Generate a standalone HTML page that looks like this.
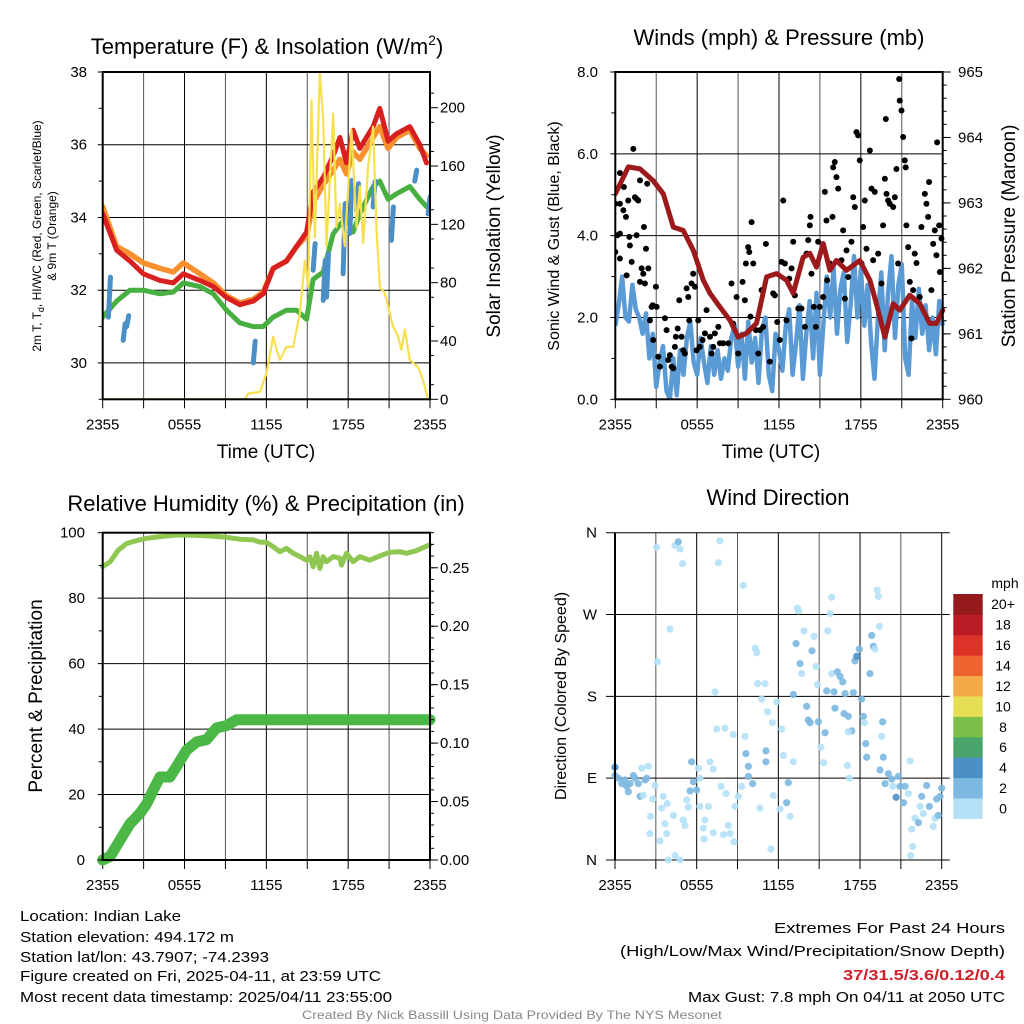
<!DOCTYPE html>
<html><head><meta charset="utf-8"><style>
html,body{margin:0;padding:0;background:#fff;}
svg{display:block;font-family:"Liberation Sans",Arial,sans-serif;}
</style></head><body>
<svg id="chart" width="1024" height="1024" viewBox="0 0 1024 1024" xmlns="http://www.w3.org/2000/svg">
<rect x="0" y="0" width="1024" height="1024" fill="#fff"/>
<g id="p1"></g>
<g id="p2"></g>
<g id="p3"></g>
<g id="p4"></g>
<g font-size="15" fill="#000">
<text x="20" y="921" textLength="161" lengthAdjust="spacingAndGlyphs">Location: Indian Lake</text>
<text x="20" y="942" textLength="214" lengthAdjust="spacingAndGlyphs">Station elevation: 494.172 m</text>
<text x="20" y="962" textLength="249" lengthAdjust="spacingAndGlyphs">Station lat/lon: 43.7907; -74.2393</text>
<text x="20" y="981" textLength="361" lengthAdjust="spacingAndGlyphs">Figure created on Fri, 2025-04-11, at 23:59 UTC</text>
<text x="20" y="1002" textLength="372" lengthAdjust="spacingAndGlyphs">Most recent data timestamp: 2025/04/11 23:55:00</text>
<text x="1005" y="933" text-anchor="end" textLength="231" lengthAdjust="spacingAndGlyphs">Extremes For Past 24 Hours</text>
<text x="1005" y="956" text-anchor="end" textLength="385" lengthAdjust="spacingAndGlyphs">(High/Low/Max Wind/Precipitation/Snow Depth)</text>
<text x="1005" y="980" text-anchor="end" fill="#d0202a" font-weight="bold" textLength="162" lengthAdjust="spacingAndGlyphs">37/31.5/3.6/0.12/0.4</text>
<text x="1005" y="1002" text-anchor="end" textLength="317" lengthAdjust="spacingAndGlyphs">Max Gust: 7.8 mph On 04/11 at 2050 UTC</text>
<text x="512" y="1019" text-anchor="middle" font-size="12" fill="#888" textLength="420" lengthAdjust="spacingAndGlyphs">Created By Nick Bassill Using Data Provided By The NYS Mesonet</text>
</g>
</svg>
<script>
// ===== shared =====
const timeTickLabels = ["2355","0555","1155","1755","2355"];
// ===== panel 1 data =====
const tempHours = [0,1.03,2.0,2.98,4.2,5.18,5.91,7.13,8.11,9.08,10.06,11.04,11.77,12.5,13.48,14.21,14.95,15.43,16.17,16.9,17.39,17.88,18.36,18.85,19.83,20.32,20.93,21.54,22.52,23.25,23.74];
const tempRed = [34.1,33.1,32.8,32.45,32.27,32.2,32.45,32.27,32.1,31.8,31.6,31.7,31.9,32.6,32.8,33.2,33.6,34.7,35.1,35.7,36.2,35.5,36.4,35.9,36.5,37.0,36.1,36.3,36.5,36.0,35.5];
const tempOrange = [34.3,33.2,33.0,32.75,32.6,32.5,32.75,32.45,32.2,31.85,31.65,31.75,31.95,32.6,32.8,33.2,33.5,34.4,34.9,35.3,35.6,35.2,35.8,35.6,36.2,36.5,35.9,36.2,36.4,35.9,35.7];
const tempGreen = [31.26,31.7,32.0,32.0,31.9,31.95,32.2,32.1,31.9,31.45,31.1,31.0,31.0,31.26,31.45,31.45,31.2,32.3,32.5,33.55,33.8,34.0,33.6,34.1,34.85,35.0,34.5,34.65,34.85,34.5,34.3];
const hiwcHours = [0.42,1.5,1.76,11.04,15.43,16.17,16.41,17.63,18.12,18.61,19.83,21.17,22.88,23.86];
const hiwcLow = [31.26,30.62,31.0,30.0,32.55,31.72,31.81,32.45,33.56,34.2,34.29,33.37,35.0,34.1];
const hiwcHigh = [32.36,31.08,31.3,30.6,33.28,32.82,33.0,34.38,35.02,34.93,35.0,34.29,35.3,34.57];
const solarHours = [0,10.43,10.67,11.53,12.01,12.5,12.75,12.99,13.48,13.97,14.46,14.82,15.07,15.31,15.56,15.92,16.17,16.41,16.9,17.14,17.39,17.75,18.24,18.61,18.85,19.1,19.46,19.83,20.07,20.32,20.68,21.05,21.29,21.66,21.9,22.15,22.52,23.13,23.49,23.86];
const solarValues = [0,0,4,5,18,43,34,27,36,36,59,95,77,205,111,224,192,105,196,118,134,105,185,118,146,107,160,187,118,77,73,59,50,43,34,48,27,22,13,0];
const tempTicks = [30,32,34,36,38];
const solarTicks = [0,40,80,120,160,200];
// ===== panel 2 data =====
const windValues = [1.8,2.3,3.0,2.0,1.9,2.8,2.2,2.0,1.6,2.1,1.0,1.6,0.3,0.9,1.3,0.2,0.0,1.0,0.1,1.2,0.6,1.5,1.9,0.9,0.6,1.5,0.9,0.4,1.3,0.6,1.2,0.5,1.0,0.7,1.5,1.8,0.8,1.6,0.5,1.9,0.9,1.5,0.4,1.7,2.0,0.6,0.2,1.6,1.2,0.7,1.8,2.2,0.6,1.4,2.3,0.5,1.6,2.4,1.0,2.6,0.6,1.8,3.0,2.0,3.2,1.6,2.7,3.1,1.4,2.3,3.5,2.0,3.2,1.8,2.8,1.4,0.5,2.0,3.1,1.2,2.6,3.5,1.5,2.8,3.3,1.0,0.6,2.4,1.5,2.7,1.6,2.3,1.2,2.0,1.1,2.4,1.8];
const gustHours = [0,0,0.15,0.34,0.34,0.34,0.34,0.59,0.63,0.78,0.83,0.95,1.03,1.07,1.2,1.32,1.44,1.56,1.56,1.68,1.81,1.81,1.93,2.05,2.1,2.17,2.25,2.34,2.42,2.54,2.66,2.74,2.78,2.98,3.03,3.15,3.27,3.64,3.76,3.88,4.0,4.13,4.25,4.37,4.44,4.57,4.69,4.86,4.98,5.1,5.23,5.35,5.42,5.59,5.71,5.84,5.96,6.08,6.2,6.4,6.57,6.69,6.94,7.06,7.18,7.3,7.55,7.67,7.91,8.28,8.52,8.64,8.89,9.01,9.33,9.5,9.57,9.74,9.82,9.91,9.99,10.11,10.31,10.48,10.6,10.72,10.84,11.04,11.33,11.57,11.7,11.87,12.06,12.19,12.31,12.43,12.55,12.75,12.92,13.04,13.16,13.41,13.65,13.9,14.02,14.14,14.26,14.31,14.38,14.55,14.7,14.87,14.99,15.24,15.36,15.48,15.53,15.73,15.92,15.97,16.09,16.21,16.34,16.58,16.7,16.83,16.95,17.07,17.31,17.44,17.56,17.68,17.8,17.92,18.05,18.17,18.29,18.41,18.66,18.78,18.9,19.02,19.27,19.51,19.63,19.76,19.83,19.88,20.0,20.12,20.37,20.49,20.61,20.73,20.81,20.85,20.98,21.1,21.22,21.29,21.34,21.47,21.59,21.71,21.83,21.95,22.08,22.32,22.44,22.69,22.81,22.93,23.0,23.17,23.3,23.42,23.54,23.59,23.74,23.79,23.91];
const gustValues = [3.6,4.78,4.01,4.05,3.44,4.78,5.53,4.62,5.19,4.46,3.03,4.86,3.97,3.76,3.36,6.12,4.94,4.9,4.01,4.86,5.35,2.87,3.2,3.07,4.21,2.83,3.68,5.27,3.2,1.93,2.26,2.3,1.45,2.75,2.26,1.04,0.8,1.98,1.69,0.96,1.08,0.8,0.76,1.28,1.53,1.73,2.42,1.53,1.2,1.12,2.71,2.5,1.93,2.83,3.07,2.75,1.2,1.93,1.28,1.45,1.61,2.18,1.53,1.12,1.28,1.61,1.77,1.37,1.37,1.37,2.83,1.85,2.5,1.12,2.87,2.42,3.32,3.72,3.6,2.02,4.33,3.32,1.69,1.12,1.69,2.67,1.77,3.8,0.92,2.59,2.54,1.89,1.45,3.36,4.86,3.32,1.93,2.95,3.2,3.85,2.54,2.22,2.22,1.77,3.56,3.89,4.25,4.46,3.07,2.26,1.77,3.85,2.26,2.5,5.07,4.37,2.91,3.32,4.46,5.67,5.8,5.43,5.15,3.4,4.13,2.46,3.64,2.99,3.85,4.94,4.7,6.53,6.45,5.84,3.32,4.21,4.86,3.68,6.08,5.15,3.4,5.07,3.56,2.83,4.25,5.39,6.85,5.02,4.86,4.78,4.7,4.94,5.63,3.32,7.83,7.3,7.06,6.41,5.84,5.67,4.25,3.72,2.87,1.49,2.67,3.56,3.33,2.5,4.21,5.02,4.78,4.46,5.31,2.67,3.8,4.13,3.52,6.28,4.25,3.11,3.93];
const presHours = [0,0.59,0.95,1.81,2.78,3.52,4.25,4.98,5.71,6.45,6.94,7.67,8.4,9.01,9.62,10.35,11.09,11.82,12.55,13.04,13.77,14.26,14.75,15.24,15.73,16.21,16.95,17.92,18.66,19.14,19.76,20.37,20.85,21.59,22.32,23.05,23.54,24];
const presValues = [963.14,963.39,963.55,963.52,963.34,963.14,962.63,962.58,962.28,961.82,961.62,961.41,961.21,960.95,961.01,961.16,961.87,961.92,961.82,961.62,962.17,962.23,962.02,962.38,961.97,962.12,961.97,962.12,961.82,961.46,960.95,961.46,961.36,961.59,961.46,961.16,961.16,961.36];
const windTicks = ["0.0","2.0","4.0","6.0","8.0"];
const presTicks = [960,961,962,963,964,965];
// ===== panel 3 data =====
const rhHours = [0,0.54,1.15,1.76,2.49,3.22,4.2,5.42,6.64,7.86,9.08,10.06,11.04,11.53,12.01,12.5,12.99,13.48,13.97,14.46,14.95,15.19,15.43,15.68,15.92,16.17,16.41,16.9,17.39,17.51,17.88,18.36,18.85,19.58,20.32,21.05,21.78,22.27,23.0,23.74,23.98];
const rhValues = [89.6,91.1,94.7,96.7,97.6,98.3,98.8,99.3,99.2,99.0,98.6,98.0,97.8,97.1,97.1,95.7,94.2,95.2,93.7,92.7,91.6,92.6,89.6,93.7,89.1,92.7,91.1,92.7,92.2,90.1,93.7,91.1,92.7,91.6,92.9,94.0,94.2,93.7,94.5,95.9,96.2];
const precipHours = [0,0.54,1.27,2.0,2.74,3.22,3.71,4.2,4.93,5.42,6.15,6.89,7.62,8.35,9.08,9.82,24];
const precipValues = [0,0.003,0.017,0.031,0.04,0.048,0.06,0.071,0.071,0.08,0.094,0.101,0.103,0.113,0.115,0.12,0.12];
const rhTicks = [0,20,40,60,80,100];
const precipTicks = ["0.00","0.05","0.10","0.15","0.20","0.25"];
// ===== panel 4 data =====
const dirHours = [0,0,0.24,0.49,0.73,0.86,0.98,1.1,1.35,1.47,1.71,1.84,1.96,2.08,2.2,2.33,2.45,2.57,2.62,2.77,2.94,3.06,3.11,3.31,3.43,3.55,3.67,3.8,3.84,4.04,4.29,4.41,4.65,4.78,4.97,3.92,4.41,4.78,5.02,5.14,5.27,5.39,5.51,5.63,5.76,6.0,6.12,6.24,6.24,6.49,6.61,6.54,6.86,6.98,7.22,7.22,7.35,7.47,7.59,7.71,7.79,7.96,8.08,8.16,8.33,8.45,8.69,8.74,8.82,9.06,9.31,9.43,9.55,9.62,9.8,9.8,10.11,10.29,10.41,10.48,10.65,10.78,11.02,11.09,11.09,11.21,11.46,11.56,11.63,11.88,12.12,12.25,12.37,12.61,12.73,12.86,13.1,13.1,13.3,13.4,13.49,13.59,13.71,13.88,14.08,14.2,14.33,14.47,14.62,14.77,14.87,14.94,15.13,15.43,15.33,15.55,15.63,15.8,15.92,15.92,16.09,16.16,16.34,16.53,16.73,16.9,16.83,17.14,17.39,17.14,17.07,17.21,17.51,17.63,17.76,17.95,18.12,18.24,18.32,18.42,18.49,18.73,18.86,18.98,19.1,19.27,19.34,19.42,19.59,19.66,19.71,19.47,20.08,19.84,20.33,20.4,20.65,20.82,20.94,21.19,21.31,21.55,21.68,21.8,21.87,21.72,22.04,22.29,22.41,22.53,22.65,22.9,23.09,23.38,23.51,23.63,23.75,23.88,24.0];
const dirDegrees = [102,93,90,84,88,81,75,84,93,90,84,70,101,71,88,90,103,29,48,67,82,344,218,21,57,70,40,29,62,254,49,346,350,342,326,0,5,0,44,38,66,58,76,108,86,77,101,90,59,35,44,23,59,108,100,30,185,144,327,351,81,28,145,73,38,29,138,20,59,70,81,302,136,117,103,92,84,233,228,194,57,177,194,120,108,163,12,151,71,174,56,144,115,63,85,48,108,182,238,277,274,216,205,252,169,154,151,230,246,213,193,152,124,140,107,186,252,271,289,205,185,167,207,202,196,183,161,158,142,141,104,90,184,219,224,232,177,158,151,128,113,205,247,235,232,297,290,257,136,152,113,99,95,84,89,81,69,92,81,63,81,73,109,34,15,5,46,41,59,70,51,82,59,37,46,67,49,70,79];
const dirSpeeds = [4,3,3,3,3,3,3,3,3,3,3,3,1,1,3,3,1,1,1,1,1,1,1,1,1,1,1,1,1,1,1,1,3,1,1,1,1,1,1,1,1,1,3,3,3,3,1,1,1,1,1,1,1,1,1,1,1,1,1,1,1,1,1,1,1,1,1,1,1,1,1,1,1,3,3,3,3,1,1,1,1,1,1,3,3,1,1,1,1,1,1,1,1,3,3,1,1,3,3,1,1,3,1,1,3,3,3,3,1,1,1,3,1,3,1,3,1,1,1,1,3,3,3,3,3,3,3,3,3,1,1,1,3,3,4,3,3,3,1,3,3,3,3,3,1,1,1,1,1,3,3,3,3,3,3,1,4,3,3,3,3,1,1,1,1,1,1,3,1,3,1,3,3,1,1,3,3,3,3];
const dirTickLabels = ["N","E","S","W","N"];
const speedBins = ["0","2","4","6","8","10","12","14","16","18","20+"];
const speedColors = ["#b5e1f7","#7db8e1","#4a8fc6","#4aa56c","#7cbf49","#e6df56","#f5a847","#ef6331","#dc3329","#bb1c25","#941a1c"];

// ===== helpers =====
const NS="http://www.w3.org/2000/svg";
function mk(parent,tag,attrs,text){const e=document.createElementNS(NS,tag);for(const k in attrs)e.setAttribute(k,attrs[k]);if(text!==undefined)e.textContent=text;parent.appendChild(e);return e;}
function lin(d0,d1,r0,r1){return v=>r0+(v-d0)*(r1-r0)/(d1-d0);}
function pathD(xs,ys,fx,fy){return xs.map((h,i)=>(i?'L':'M')+fx(h).toFixed(1)+','+fy(ys[i]).toFixed(1)).join('');}

function frame(g,L,R,T,B,hGrid,fy,opts){
  const fx=lin(0,24,L,R);
  for(let h=0;h<=24;h+=3){
    const ln=mk(g,'line',{x1:fx(h),x2:fx(h),y1:T,y2:B,stroke:(h%6===0)?'#000':'#555','stroke-width':1});
    
    
    const tk=mk(g,'line',{x1:fx(h),x2:fx(h),y1:B,y2:B+9,stroke:'#000','stroke-width':1});
    
    
  }
  timeTickLabels.forEach((t,i)=>{
    const tx=mk(g,'text',{x:fx(i*6),y:B+30,'font-size':15,'text-anchor':'middle'},t);
    
    
  });
  hGrid.forEach(v=>{
    const ln=mk(g,'line',{x1:L-(opts.leftExt||0),x2:R+(opts.rightExt||0),y1:fy(v),y2:fy(v),stroke:'#000','stroke-width':1});
    
    
  });
  return fx;
}
function border(g,L,R,T,B){
  const r=mk(g,'rect',{x:L,y:T,width:R-L,height:B-T,fill:'none',stroke:'#000','stroke-width':2});
  
  
}
function yTicks(g,x,vals,fy,side,len,labels,labelX){
  vals.forEach((v,i)=>{
    const t=mk(g,'line',{x1:x,x2:x+side*len,y1:fy(v),y2:fy(v),stroke:'#000','stroke-width':1});
    
    
    if(labels){
      const tx=mk(g,'text',{x:labelX,y:fy(v)+5,'font-size':15,'text-anchor':side<0?'end':'start'},labels[i]);
      
      
    }
  });
}
function range(a,b,s){const r=[];for(let v=a;v<=b+1e-9;v+=s)r.push(+v.toFixed(4));return r;}

// ===== Panel 1 =====
(function(){
  const g=document.getElementById('p1');
  const L=102.7,R=430,T=72,B=399.3;
  const fy=lin(29,38,B,T), fs=lin(0,224.5,B,T);
  const fx=frame(g,L,R,T,B,tempTicks,fy,{});
  const clip=mk(g,'clipPath',{id:'c1'});mk(clip,'rect',{x:L,y:T,width:R-L,height:B-T});
  const d=mk(g,'g',{'clip-path':'url(#c1)'});
  let p=mk(d,'path',{d:pathD(tempHours,tempOrange,fx,fy),fill:'none',stroke:'#f7902d','stroke-width':5.5,'stroke-linejoin':'round','stroke-linecap':'round'});
  
  
  p=mk(d,'path',{d:pathD(tempHours,tempRed,fx,fy),fill:'none',stroke:'#d7201f','stroke-width':5,'stroke-linejoin':'round','stroke-linecap':'round'});
  
  
  p=mk(d,'path',{d:pathD(tempHours,tempGreen,fx,fy),fill:'none',stroke:'#47b040','stroke-width':5,'stroke-linejoin':'round','stroke-linecap':'round'});
  
  
  hiwcHours.forEach((h,i)=>{
    const s=mk(d,'line',{x1:fx(h),x2:fx(h)+2,y1:fy(hiwcLow[i]),y2:fy(hiwcHigh[i]),stroke:'#4a8fc6','stroke-width':5,'stroke-linecap':'round'});
    
    
  });
  p=mk(d,'path',{d:pathD(solarHours,solarValues,fx,fs),fill:'none',stroke:'#f7e04f','stroke-width':2.2,'stroke-linejoin':'round'});
  
  
  border(g,L,R,T,B);
  yTicks(g,L,tempTicks,fy,-1,5,tempTicks.map(String),87);
  yTicks(g,L,[29,31,33,35,37],fy,-1,4);
  yTicks(g,R,solarTicks,fs,1,8,solarTicks.map(String),440);
  yTicks(g,R,range(10,220,20),fs,1,4);
  let t=mk(g,'text',{x:267,y:54,'font-size':22,'text-anchor':'middle'});
  
  
  t.innerHTML='Temperature (F) &amp; Insolation (W/m<tspan font-size="14" dy="-9">2</tspan><tspan dy="9">)</tspan>';
  t=mk(g,'text',{x:266,y:458,'font-size':19,'text-anchor':'middle'},'Time (UTC)');
  
  
  t=mk(g,'text',{x:0,y:0,'font-size':19,'text-anchor':'middle',transform:'translate(500,236) rotate(-90)'},'Solar Insolation (Yellow)');
  
  
  t=mk(g,'text',{x:0,y:0,'font-size':12,'text-anchor':'middle',transform:'translate(41,236) rotate(-90)'});
  
  
  t.innerHTML='2m T, T<tspan font-size="9" dy="3">d</tspan><tspan dy="-3">, HI/WC (Red, Green, Scarlet/Blue)</tspan>';
  t=mk(g,'text',{x:0,y:0,'font-size':12,'text-anchor':'middle',transform:'translate(56,236) rotate(-90)'},'& 9m T (Orange)');
  
  
})();

// ===== Panel 2 =====
(function(){
  const g=document.getElementById('p2');
  const L=615.3,R=942.7,T=72,B=399.3;
  const fy=lin(0,8,B,T), fp=lin(960,965,B,T);
  const fx=frame(g,L,R,T,B,[0,2,4,6,8],fy,{});
  const clip=mk(g,'clipPath',{id:'c2'});mk(clip,'rect',{x:L,y:T-4,width:R-L+3,height:B-T+4});
  const d=mk(g,'g',{'clip-path':'url(#c2)'});
  const wh=windValues.map((v,i)=>i*0.25);
  let p=mk(d,'path',{d:pathD(wh,windValues,fx,fy),fill:'none',stroke:'#5b9bd5','stroke-width':4.5,'stroke-linejoin':'round'});
  
  
  gustHours.forEach((h,i)=>{
    const c=mk(d,'circle',{cx:fx(h),cy:fy(gustValues[i]),r:3,fill:'#000'});
    
    
  });
  p=mk(d,'path',{d:pathD(presHours,presValues,fx,fp),fill:'none',stroke:'#9c1a1c','stroke-width':5,'stroke-linejoin':'round','stroke-linecap':'round'});
  
  
  border(g,L,R,T,B);
  yTicks(g,L,[0,2,4,6,8],fy,-1,5,windTicks,598);
  yTicks(g,L,[1,3,5,7],fy,-1,4);
  yTicks(g,R,presTicks,fp,1,8,presTicks.map(String),958);
  yTicks(g,R,range(960.2,964.8,0.2),fp,1,4);
  let t=mk(g,'text',{x:779,y:45,'font-size':22,'text-anchor':'middle'},'Winds (mph) & Pressure (mb)');
  
  
  t=mk(g,'text',{x:771,y:458,'font-size':19,'text-anchor':'middle'},'Time (UTC)');
  
  
  t=mk(g,'text',{x:0,y:0,'font-size':16,'text-anchor':'middle',transform:'translate(559,236) rotate(-90)'},'Sonic Wind & Gust (Blue, Black)');
  
  
  t=mk(g,'text',{x:0,y:0,'font-size':19,'text-anchor':'middle',transform:'translate(1015,236) rotate(-90)'},'Station Pressure (Maroon)');
  
  
})();

// ===== Panel 3 =====
(function(){
  const g=document.getElementById('p3');
  const L=102.7,R=430,T=532.7,B=860;
  const fy=lin(0,100,B,T), fpr=lin(0,0.28,B,T);
  const fx=frame(g,L,R,T,B,rhTicks,fy,{});
  let p=mk(g,'path',{d:pathD(precipHours,precipValues,fx,fpr),fill:'none',stroke:'#4bb747','stroke-width':11,'stroke-linejoin':'round','stroke-linecap':'round'});
  
  
  p=mk(g,'path',{d:pathD(rhHours,rhValues,fx,fy),fill:'none',stroke:'#8fc752','stroke-width':5,'stroke-linejoin':'round','stroke-linecap':'round'});
  
  
  border(g,L,R,T,B);
  yTicks(g,L,rhTicks,fy,-1,5,rhTicks.map(String),85);
  yTicks(g,L,[10,30,50,70,90],fy,-1,4);
  yTicks(g,R,[0,0.05,0.1,0.15,0.2,0.25],fpr,1,8,precipTicks,440);
  yTicks(g,R,range(0.01,0.28,0.01),fpr,1,4);
  let t=mk(g,'text',{x:266,y:511,'font-size':22,'text-anchor':'middle'},'Relative Humidity (%) & Precipitation (in)');
  
  
  t=mk(g,'text',{x:0,y:0,'font-size':19,'text-anchor':'middle',transform:'translate(42,696) rotate(-90)'},'Percent & Precipitation');
  
  
})();

// ===== Panel 4 =====
(function(){
  const g=document.getElementById('p4');
  const L=615,R=941.7,T=532.7,B=860;
  const fy=lin(0,360,B,T);
  const fx=frame(g,L,R,T,B,[0,90,180,270,360],fy,{leftExt:9,rightExt:8});
  dirHours.forEach((h,i)=>{
    const c=mk(g,'circle',{cx:fx(h),cy:fy(dirDegrees[i]),r:3.6,fill:speedColors[Math.min(10,Math.floor(dirSpeeds[i]/2))],'fill-opacity':0.9});
    
    
  });
  const bl=mk(g,'line',{x1:L,x2:L,y1:T,y2:B,stroke:'#000','stroke-width':2});
  
  
  dirTickLabels.forEach((lab,i)=>{
    const t=mk(g,'text',{x:597,y:fy(i*90)+5,'font-size':15,'text-anchor':'end'},lab);
    
    
  });
  let t=mk(g,'text',{x:778,y:505,'font-size':22,'text-anchor':'middle'},'Wind Direction');
  
  
  t=mk(g,'text',{x:0,y:0,'font-size':16,'text-anchor':'middle',transform:'translate(566,696) rotate(-90)'},'Direction (Colored By Speed)');
  
  
  const cb=mk(g,'g',{});
  
  
  const cbTop=594, cbH=224.7/11;
  speedBins.forEach((lab,i)=>{
    const y=cbTop+(10-i)*cbH;
    const r=mk(cb,'rect',{x:953.3,y:y,width:29.4,height:cbH+0.3,fill:speedColors[i]});
    
    
    const tx=mk(cb,'text',{x:1003,y:y+cbH/2+5,'font-size':14,'text-anchor':'middle'},lab);
    
    
  });
  t=mk(cb,'text',{x:1005,y:588,'font-size':14,'text-anchor':'middle'},'mph');
  
  
})();
</script>
</body></html>
